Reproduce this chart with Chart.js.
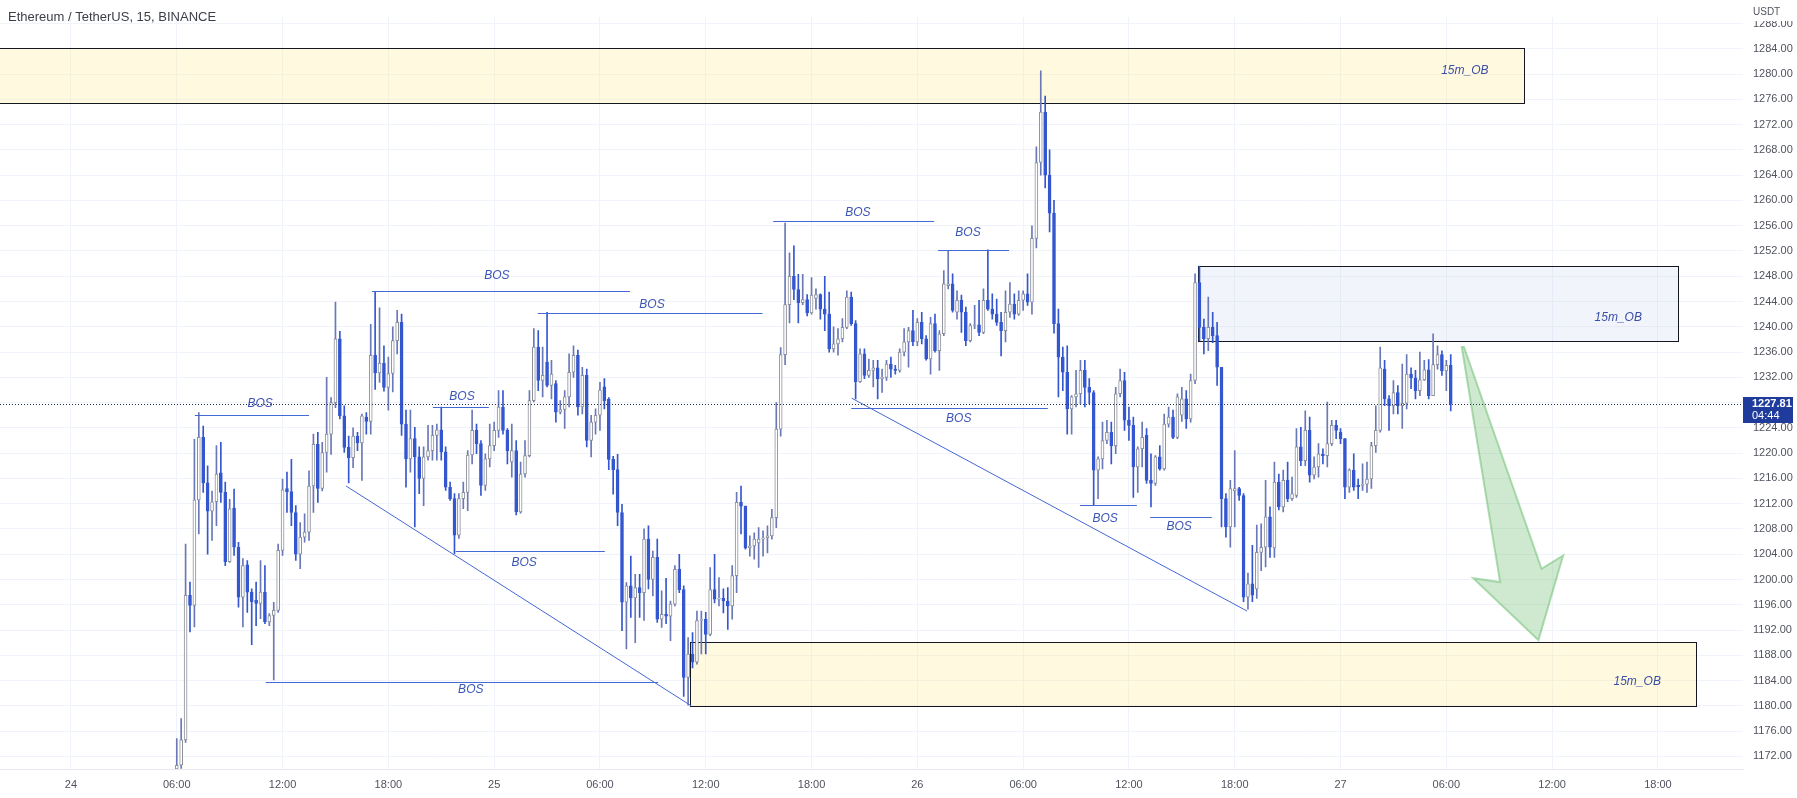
<!DOCTYPE html>
<html>
<head>
<meta charset="utf-8">
<title>Ethereum / TetherUS, 15, BINANCE</title>
<script src="https://cdn.jsdelivr.net/npm/chart.js@4.4.1/dist/chart.umd.min.js"></script>
<style>
  html, body { margin: 0; padding: 0; background: #fff; }
  #wrap { position: relative; width: 1797px; height: 798px; }
</style>
</head>
<body>
<div id="wrap"><canvas id="chart"></canvas></div>
<script>
// ETH/USDT 15m candles, first one at 06:00 on the 24th
const openPrices = [
  1170.0, 1170.6, 1174.6, 1197.5, 1195.9, 1212.6, 1222.5, 1215.3, 1210.8, 1212.3,
  1216.9, 1213.8, 1202.8, 1211.3, 1205.1, 1197.2, 1202.3, 1198.0, 1196.7, 1196.2,
  1198.0, 1193.3, 1194.3, 1195.1, 1204.6, 1214.4, 1213.9, 1210.6, 1204.0, 1206.7,
  1207.5, 1214.8, 1221.4, 1214.4, 1220.1, 1223.0, 1228.0, 1238.1, 1225.9, 1220.9,
  1219.3, 1222.7, 1221.6, 1225.7, 1225.0, 1235.5, 1232.7, 1234.2, 1230.4, 1232.6,
  1237.8, 1240.7, 1224.6, 1219.1, 1222.3, 1219.4, 1216.0, 1219.4, 1220.4, 1222.8,
  1223.7, 1220.2, 1214.6, 1212.8, 1207.0, 1212.8, 1213.8, 1219.7, 1223.6, 1221.5,
  1214.9, 1219.1, 1221.2, 1223.6, 1227.3, 1223.6, 1218.6, 1220.4, 1210.7, 1216.7,
  1219.6, 1228.3, 1236.8, 1231.5, 1234.4, 1230.7, 1231.0, 1226.5, 1226.9, 1228.9,
  1232.8, 1235.5, 1227.3, 1232.3, 1222.0, 1224.9, 1226.0, 1230.5, 1228.5, 1219.0,
  1217.4, 1210.6, 1196.4, 1199.0, 1197.1, 1198.7, 1197.9, 1206.4, 1200.0, 1203.5,
  1193.7, 1194.5, 1194.2, 1196.1, 1201.6, 1198.4, 1184.5, 1188.2, 1186.9, 1193.5,
  1193.7, 1191.3, 1198.4, 1196.9, 1197.0, 1196.6, 1195.8, 1200.6, 1212.2, 1211.6,
  1205.0, 1205.3, 1205.8, 1206.4, 1206.6, 1206.9, 1209.8, 1223.8, 1235.6, 1243.5,
  1248.0, 1245.9, 1243.8, 1244.3, 1242.2, 1244.5, 1245.1, 1242.8, 1242.0, 1236.5,
  1237.3, 1238.1, 1239.9, 1244.7, 1240.5, 1231.3, 1235.7, 1232.3, 1233.1, 1233.5,
  1231.8, 1232.0, 1234.1, 1233.3, 1233.1, 1236.0, 1237.6, 1239.4, 1237.6, 1240.7,
  1238.1, 1234.9, 1240.5, 1236.2, 1238.9, 1246.5, 1246.8, 1242.3, 1244.2, 1242.3,
  1237.8, 1240.2, 1240.3, 1239.1, 1244.2, 1242.8, 1242.0, 1240.7, 1239.4, 1242.3,
  1243.6, 1242.0, 1244.2, 1245.2, 1243.9, 1254.0, 1266.0, 1274.0, 1264.0, 1258.0,
  1240.5, 1235.2, 1232.8, 1227.0, 1228.9, 1229.4, 1233.1, 1230.4, 1229.6, 1217.3,
  1219.1, 1222.0, 1223.3, 1221.2, 1229.4, 1231.5, 1225.2, 1224.4, 1217.8, 1220.7,
  1222.8, 1215.7, 1215.2, 1219.4, 1217.5, 1224.6, 1225.7, 1222.5, 1226.0, 1228.6,
  1225.4, 1231.5, 1247.0, 1239.9, 1238.1, 1239.9, 1238.6, 1233.6, 1212.8, 1208.3,
  1214.0, 1214.4, 1213.3, 1197.2, 1199.3, 1198.5, 1204.3, 1205.1, 1209.9, 1205.0,
  1215.4, 1211.5, 1215.7, 1212.8, 1213.3, 1221.0, 1218.8, 1223.6, 1216.5, 1217.8,
  1219.8, 1219.6, 1221.5, 1224.4, 1223.3, 1222.3, 1214.6, 1217.3, 1214.9, 1214.9,
  1215.1, 1215.9, 1221.2, 1223.6, 1233.3, 1228.6, 1227.5, 1229.6, 1227.5, 1227.9,
  1232.5, 1231.9, 1229.9, 1231.6, 1233.2, 1229.1, 1234.0, 1235.6, 1233.0, 1233.9
];
const highPrices = [
  1174.8, 1178.0, 1205.6, 1199.6, 1222.2, 1226.4, 1224.3, 1218.0, 1214.0, 1221.2,
  1221.7, 1215.4, 1212.7, 1214.3, 1205.9, 1203.3, 1203.0, 1198.5, 1199.6, 1203.0,
  1202.2, 1194.6, 1196.4, 1205.6, 1215.9, 1217.0, 1219.0, 1211.7, 1209.0, 1210.4,
  1217.2, 1223.0, 1223.3, 1221.7, 1232.0, 1228.8, 1243.9, 1239.3, 1227.5, 1222.7,
  1224.0, 1223.3, 1226.2, 1226.4, 1240.4, 1245.6, 1243.0, 1237.0, 1235.2, 1240.0,
  1242.6, 1242.0, 1226.8, 1226.8, 1224.1, 1221.0, 1221.0, 1224.4, 1224.4, 1224.6,
  1227.3, 1221.0, 1215.4, 1213.6, 1213.6, 1215.4, 1220.4, 1226.8, 1224.6, 1222.0,
  1219.9, 1224.6, 1224.9, 1229.9, 1229.9, 1223.9, 1224.6, 1222.0, 1218.6, 1222.0,
  1229.9, 1239.7, 1239.4, 1236.8, 1242.3, 1234.7, 1231.5, 1228.3, 1229.9, 1235.7,
  1237.0, 1236.3, 1233.6, 1233.3, 1226.0, 1227.0, 1231.2, 1231.8, 1228.8, 1219.5,
  1219.8, 1211.9, 1199.5, 1203.7, 1200.8, 1200.8, 1208.0, 1208.5, 1204.5, 1206.4,
  1198.2, 1200.2, 1196.6, 1202.2, 1204.0, 1199.0, 1190.8, 1191.6, 1195.0, 1195.0,
  1194.8, 1201.9, 1204.0, 1200.3, 1198.5, 1198.7, 1202.2, 1213.8, 1214.8, 1211.6,
  1206.9, 1207.4, 1208.2, 1207.7, 1208.5, 1211.1, 1228.0, 1236.7, 1256.4, 1251.7,
  1252.8, 1248.3, 1248.3, 1245.1, 1247.8, 1246.0, 1245.2, 1248.0, 1245.5, 1240.0,
  1239.7, 1241.3, 1245.7, 1245.5, 1241.0, 1236.5, 1236.5, 1234.9, 1234.7, 1234.7,
  1233.3, 1234.7, 1235.2, 1233.9, 1236.5, 1239.7, 1239.9, 1242.6, 1241.3, 1242.3,
  1238.6, 1241.5, 1242.0, 1239.4, 1248.9, 1252.1, 1248.4, 1245.7, 1245.0, 1243.1,
  1240.5, 1243.4, 1244.2, 1246.0, 1252.2, 1245.2, 1244.4, 1242.3, 1245.7, 1247.0,
  1245.2, 1245.7, 1245.7, 1248.4, 1256.0, 1268.5, 1280.5, 1276.5, 1268.0, 1260.0,
  1242.8, 1236.8, 1237.0, 1229.1, 1233.1, 1234.7, 1234.7, 1231.8, 1229.9, 1219.4,
  1224.9, 1225.2, 1224.9, 1230.4, 1233.3, 1232.8, 1227.3, 1225.7, 1221.0, 1224.9,
  1223.9, 1219.9, 1219.6, 1221.2, 1226.2, 1227.3, 1226.8, 1229.4, 1230.4, 1229.9,
  1232.5, 1248.4, 1249.6, 1241.2, 1244.7, 1242.3, 1240.7, 1233.6, 1213.6, 1215.7,
  1220.4, 1214.6, 1213.6, 1201.0, 1205.4, 1208.6, 1208.8, 1215.7, 1211.5, 1218.6,
  1216.7, 1217.3, 1218.6, 1216.2, 1223.9, 1224.1, 1226.7, 1225.7, 1219.4, 1221.5,
  1220.7, 1228.1, 1225.2, 1225.2, 1223.9, 1222.3, 1217.5, 1219.9, 1215.9, 1218.3,
  1218.6, 1221.7, 1227.5, 1236.8, 1234.7, 1229.1, 1231.5, 1230.7, 1234.1, 1235.6,
  1233.5, 1233.1, 1236.0, 1234.7, 1234.8, 1238.9, 1237.0, 1236.2, 1234.7, 1235.6
];
const lowPrices = [
  1169.8, 1170.1, 1174.2, 1191.7, 1192.5, 1207.2, 1213.8, 1204.0, 1206.2, 1208.5,
  1212.2, 1202.2, 1202.7, 1203.8, 1195.6, 1192.5, 1194.8, 1189.7, 1192.7, 1193.8,
  1193.0, 1192.7, 1184.1, 1194.8, 1203.8, 1210.6, 1208.5, 1203.0, 1201.7, 1205.9,
  1206.2, 1210.6, 1212.2, 1214.0, 1217.0, 1219.8, 1227.2, 1225.4, 1220.1, 1215.3,
  1217.7, 1220.4, 1215.7, 1223.0, 1223.0, 1230.1, 1231.2, 1229.8, 1226.8, 1229.7,
  1235.7, 1222.8, 1214.6, 1217.0, 1208.3, 1213.6, 1211.7, 1218.9, 1218.9, 1218.9,
  1218.9, 1214.1, 1212.5, 1204.1, 1206.5, 1211.2, 1210.9, 1218.3, 1219.9, 1213.3,
  1214.1, 1217.8, 1220.4, 1222.5, 1223.0, 1218.3, 1216.2, 1210.2, 1210.5, 1216.2,
  1219.4, 1228.1, 1229.9, 1228.9, 1230.5, 1228.6, 1224.9, 1226.2, 1223.9, 1227.3,
  1232.0, 1226.0, 1226.2, 1221.0, 1219.4, 1223.0, 1223.6, 1227.0, 1217.4, 1213.5,
  1208.5, 1191.9, 1189.0, 1194.0, 1190.0, 1194.0, 1193.5, 1198.5, 1197.4, 1193.2,
  1192.4, 1193.0, 1190.3, 1195.8, 1197.9, 1181.5, 1180.1, 1186.0, 1186.6, 1188.2,
  1188.2, 1191.1, 1196.3, 1195.8, 1194.7, 1192.1, 1193.7, 1197.9, 1207.2, 1204.8,
  1203.7, 1203.2, 1201.9, 1203.7, 1204.2, 1206.4, 1208.2, 1222.7, 1234.0, 1240.6,
  1244.3, 1240.6, 1243.5, 1241.7, 1242.0, 1242.8, 1241.2, 1239.4, 1236.0, 1236.0,
  1235.5, 1237.6, 1239.7, 1240.2, 1228.6, 1231.2, 1231.8, 1232.0, 1230.5, 1228.6,
  1229.6, 1231.5, 1232.0, 1232.5, 1232.8, 1235.4, 1233.6, 1237.0, 1237.0, 1237.3,
  1234.7, 1232.5, 1236.0, 1233.1, 1238.6, 1246.0, 1242.3, 1241.2, 1239.1, 1237.0,
  1237.6, 1239.7, 1238.6, 1238.9, 1242.6, 1241.2, 1240.2, 1235.4, 1237.6, 1241.5,
  1241.2, 1241.8, 1242.6, 1243.4, 1242.0, 1252.5, 1264.0, 1262.0, 1255.0, 1239.0,
  1228.9, 1229.9, 1223.0, 1223.0, 1227.3, 1227.8, 1227.3, 1227.8, 1211.7, 1212.8,
  1217.5, 1221.5, 1218.3, 1219.9, 1228.9, 1223.6, 1222.0, 1213.0, 1213.8, 1217.8,
  1215.2, 1211.5, 1214.9, 1217.3, 1217.3, 1224.1, 1222.3, 1222.3, 1225.0, 1223.9,
  1224.9, 1231.0, 1237.8, 1235.7, 1236.2, 1237.5, 1230.7, 1208.3, 1206.7, 1205.1,
  1208.3, 1212.5, 1196.5, 1195.3, 1196.5, 1197.0, 1201.4, 1202.0, 1203.5, 1203.5,
  1211.0, 1210.7, 1212.3, 1212.5, 1213.0, 1218.0, 1218.0, 1215.4, 1215.9, 1216.2,
  1218.3, 1217.8, 1221.2, 1222.3, 1221.5, 1212.8, 1213.8, 1214.1, 1212.8, 1214.1,
  1213.8, 1214.4, 1220.1, 1223.3, 1227.5, 1223.6, 1226.2, 1226.2, 1223.9, 1227.0,
  1230.2, 1228.6, 1229.1, 1231.5, 1228.6, 1229.1, 1233.3, 1232.3, 1229.9, 1226.7
];
const closePrices = [
  1170.6, 1174.6, 1197.5, 1195.9, 1212.6, 1222.5, 1215.3, 1210.8, 1212.3, 1216.7,
  1213.8, 1202.8, 1211.2, 1205.1, 1197.2, 1202.2, 1198.0, 1196.5, 1196.2, 1198.0,
  1193.3, 1194.3, 1195.1, 1204.6, 1214.2, 1213.9, 1210.6, 1204.0, 1206.7, 1207.5,
  1214.8, 1221.4, 1214.4, 1220.1, 1223.0, 1228.0, 1238.1, 1225.9, 1220.9, 1219.3,
  1222.7, 1221.6, 1225.9, 1225.0, 1235.5, 1232.7, 1234.2, 1230.4, 1232.6, 1237.8,
  1240.7, 1224.6, 1219.1, 1222.3, 1219.4, 1216.0, 1219.4, 1220.4, 1222.8, 1223.7,
  1220.2, 1214.6, 1212.8, 1207.0, 1212.8, 1213.8, 1219.7, 1223.6, 1221.5, 1214.9,
  1219.1, 1221.2, 1223.6, 1227.3, 1223.6, 1220.4, 1220.4, 1210.7, 1216.7, 1219.6,
  1228.3, 1236.8, 1231.5, 1232.3, 1230.7, 1232.5, 1226.5, 1226.9, 1228.9, 1232.8,
  1235.5, 1227.3, 1232.3, 1222.0, 1224.9, 1226.0, 1230.0, 1228.3, 1219.0, 1217.4,
  1210.6, 1196.4, 1199.0, 1197.1, 1198.7, 1197.9, 1206.4, 1200.0, 1203.5, 1193.7,
  1194.5, 1194.2, 1196.1, 1201.6, 1198.4, 1184.5, 1188.2, 1186.9, 1193.5, 1193.7,
  1191.3, 1198.4, 1196.9, 1197.0, 1196.6, 1195.8, 1200.6, 1212.2, 1211.6, 1205.0,
  1205.3, 1206.4, 1206.4, 1206.6, 1206.9, 1209.8, 1223.8, 1235.6, 1243.5, 1248.0,
  1245.9, 1243.8, 1244.3, 1242.2, 1245.0, 1245.1, 1242.8, 1242.0, 1236.5, 1237.3,
  1238.1, 1239.9, 1244.7, 1240.5, 1231.3, 1235.7, 1232.3, 1233.1, 1233.5, 1231.8,
  1232.0, 1234.1, 1233.3, 1233.1, 1236.0, 1237.6, 1239.4, 1237.6, 1240.7, 1238.1,
  1234.9, 1240.5, 1236.2, 1238.9, 1246.8, 1246.8, 1242.6, 1244.2, 1242.3, 1237.8,
  1240.2, 1240.3, 1239.1, 1244.2, 1242.8, 1242.0, 1240.7, 1239.4, 1242.3, 1243.6,
  1242.0, 1244.2, 1245.2, 1243.9, 1254.0, 1266.0, 1274.0, 1264.0, 1258.0, 1240.5,
  1235.2, 1232.8, 1227.0, 1228.9, 1229.4, 1233.1, 1230.4, 1229.6, 1217.3, 1219.1,
  1222.0, 1223.3, 1221.2, 1229.4, 1231.5, 1225.2, 1224.4, 1217.8, 1220.7, 1222.5,
  1215.7, 1215.2, 1219.4, 1217.5, 1224.6, 1225.7, 1222.5, 1228.9, 1228.6, 1225.4,
  1231.5, 1247.0, 1239.9, 1238.1, 1239.9, 1238.6, 1233.6, 1212.8, 1208.3, 1214.4,
  1214.4, 1213.3, 1197.2, 1199.3, 1197.5, 1204.3, 1205.1, 1209.9, 1205.1, 1215.4,
  1211.5, 1215.7, 1212.8, 1213.6, 1221.0, 1218.8, 1223.6, 1216.5, 1217.8, 1219.9,
  1219.6, 1221.5, 1224.4, 1223.6, 1222.3, 1214.6, 1217.3, 1214.6, 1214.7, 1215.1,
  1215.9, 1221.2, 1223.6, 1233.5, 1228.6, 1227.5, 1229.6, 1227.5, 1227.9, 1232.5,
  1231.9, 1229.9, 1231.6, 1233.2, 1229.1, 1234.0, 1235.6, 1233.0, 1233.9, 1227.81
];

// x values are 15-minute slots counted from 00:00 on the 24th
const firstSlot = 24;
const timeTicks = [0, 24, 48, 72, 96, 120, 144, 168, 192, 216, 240, 264, 288, 312, 336, 360];
const timeLabels = ['24', '06:00', '12:00', '18:00', '25', '06:00', '12:00', '18:00',
  '26', '06:00', '12:00', '18:00', '27', '06:00', '12:00', '18:00'];
const priceTicks = [1172, 1176, 1180, 1184, 1188, 1192, 1196, 1200, 1204, 1208, 1212, 1216,
  1220, 1224, 1228, 1232, 1236, 1240, 1244, 1248, 1252, 1256, 1260, 1264, 1268, 1272,
  1276, 1280, 1284, 1288];
const lastPrice = 1227.81;
const lastPriceTimer = '04:44';

// drawings, in (slot, price)
const obZones = [
  { from: -20, to: 329.6, top: 1284.2, bottom: 1275.4, fill: 'rgba(255, 232, 140, 0.28)', label: [316.2, 1280.5] },
  { from: 255.6, to: 364.6, top: 1249.7, bottom: 1237.8, fill: 'rgba(190, 206, 232, 0.22)', label: [351.0, 1241.5] },
  { from: 140.4, to: 368.6, top: 1190.1, bottom: 1180.0, fill: 'rgba(255, 232, 140, 0.28)', label: [355.3, 1183.8] }
];
const bosLines = [
  { from: 28.1, to: 54.0, price: 1226.0, label: [42.9, 1227.9] },
  { from: 68.3, to: 126.8, price: 1245.7, label: [96.6, 1248.1] },
  { from: 105.9, to: 156.9, price: 1242.2, label: [131.8, 1243.5] },
  { from: 82.1, to: 94.8, price: 1227.3, label: [88.7, 1228.9] },
  { from: 87.3, to: 121.1, price: 1204.5, label: [102.8, 1202.6] },
  { from: 44.2, to: 133.2, price: 1183.8, label: [90.7, 1182.5] },
  { from: 159.3, to: 195.8, price: 1256.7, label: [178.5, 1258.0] },
  { from: 196.7, to: 212.8, price: 1252.2, label: [203.5, 1254.9] },
  { from: 177.0, to: 221.6, price: 1227.2, label: [201.4, 1225.5] },
  { from: 228.9, to: 241.8, price: 1211.8, label: [234.6, 1209.6] },
  { from: 244.8, to: 258.8, price: 1209.9, label: [251.4, 1208.3] }
];
const trendLines = [
  [62.4, 1214.8, 140.7, 1180.0],
  [177.1, 1228.7, 266.8, 1195.0]
];
const arrowShape = [
  [315.5, 1236.8], [324.2, 1199.6], [318.1, 1200.2], [332.9, 1190.4],
  [338.5, 1203.8], [333.6, 1201.7], [316.0, 1236.8]
];

const upFill = '#ffffff', upLine = '#8d9099', upWick = '#6a78b8';
const downFill = '#3457d0', downWick = '#3457d0';
const textColor = '#50535e';
const gridColor = '#f0f3fa';

const wickData = [];
const bodyData = [];
const wickColors = [];
const bodyFills = [];
const bodyLines = [];
openPrices.forEach((o, i) => {
  const c = closePrices[i];
  const up = c >= o;
  wickData.push({ x: firstSlot + i, y: [lowPrices[i], highPrices[i]] });
  bodyData.push({ x: firstSlot + i, y: [o, c] });
  wickColors.push(up ? upWick : downWick);
  bodyFills.push(up ? upFill : downFill);
  bodyLines.push(up ? upLine : downFill);
});

const drawings = {
  id: 'drawings',
  beforeDatasetsDraw(chart) {
    const { ctx, chartArea: a, scales: { x, y } } = chart;
    ctx.save();
    ctx.beginPath();
    ctx.rect(a.left, a.top, a.width, a.height);
    ctx.clip();
    obZones.forEach(z => {
      const x1 = Math.round(x.getPixelForValue(z.from)) + 0.5;
      const x2 = Math.round(x.getPixelForValue(z.to)) + 0.5;
      const y1 = Math.round(y.getPixelForValue(z.top)) + 0.5;
      const y2 = Math.round(y.getPixelForValue(z.bottom)) + 0.5;
      ctx.fillStyle = z.fill;
      ctx.fillRect(x1, y1, x2 - x1, y2 - y1);
      ctx.strokeStyle = '#131722';
      ctx.lineWidth = 1;
      ctx.strokeRect(x1, y1, x2 - x1, y2 - y1);
    });
    ctx.restore();
  },
  afterDatasetsDraw(chart) {
    const { ctx, chartArea: a, scales: { x, y } } = chart;
    ctx.save();
    ctx.beginPath();
    ctx.rect(a.left, a.top, a.width, a.height);
    ctx.clip();

    // BOS levels
    ctx.strokeStyle = '#4468d4';
    ctx.lineWidth = 1;
    bosLines.forEach(b => {
      const yy = Math.round(y.getPixelForValue(b.price)) + 0.5;
      ctx.beginPath();
      ctx.moveTo(x.getPixelForValue(b.from), yy);
      ctx.lineTo(x.getPixelForValue(b.to), yy);
      ctx.stroke();
    });
    trendLines.forEach(t => {
      ctx.beginPath();
      ctx.moveTo(x.getPixelForValue(t[0]), y.getPixelForValue(t[1]));
      ctx.lineTo(x.getPixelForValue(t[2]), y.getPixelForValue(t[3]));
      ctx.stroke();
    });

    ctx.font = 'italic 12px "Liberation Sans", Arial, sans-serif';
    ctx.textAlign = 'center';
    ctx.textBaseline = 'middle';
    ctx.fillStyle = '#3b55b6';
    bosLines.forEach(b => {
      ctx.fillText('BOS', x.getPixelForValue(b.label[0]), y.getPixelForValue(b.label[1]));
    });
    ctx.fillStyle = '#3a4ea6';
    obZones.forEach(z => {
      ctx.fillText('15m_OB', x.getPixelForValue(z.label[0]), y.getPixelForValue(z.label[1]));
    });

    // green arrow
    ctx.beginPath();
    arrowShape.forEach((p, i) => {
      const px = x.getPixelForValue(p[0]), py = y.getPixelForValue(p[1]);
      if (i === 0) ctx.moveTo(px, py); else ctx.lineTo(px, py);
    });
    ctx.closePath();
    ctx.fillStyle = 'rgba(102, 187, 106, 0.32)';
    ctx.fill();
    ctx.strokeStyle = 'rgba(102, 187, 106, 0.5)';
    ctx.lineWidth = 2;
    ctx.stroke();

    // last price line
    const ly = Math.round(y.getPixelForValue(lastPrice)) + 0.5;
    ctx.setLineDash([1, 2]);
    ctx.strokeStyle = '#283350';
    ctx.lineWidth = 1;
    ctx.beginPath();
    ctx.moveTo(a.left, ly);
    ctx.lineTo(a.right, ly);
    ctx.stroke();
    ctx.restore();
  },
  afterDraw(chart) {
    const { ctx, chartArea: a, scales: { y } } = chart;
    ctx.save();
    ctx.font = '13px "Liberation Sans", Arial, sans-serif';
    ctx.fillStyle = '#3b3e48';
    ctx.textAlign = 'left';
    ctx.textBaseline = 'middle';
    ctx.fillText('Ethereum / TetherUS, 15, BINANCE', 8, 17);

    ctx.fillStyle = '#ffffff';
    ctx.fillRect(a.right, 0, chart.width - a.right, 21);
    ctx.font = '10px "Liberation Sans", Arial, sans-serif';
    ctx.fillStyle = textColor;
    ctx.fillText('USDT', a.right + 10, 12);

    const ly = Math.round(y.getPixelForValue(lastPrice));
    ctx.fillStyle = '#1f3c9c';
    ctx.fillRect(a.right, ly - 7, 50, 26);
    ctx.fillStyle = '#ffffff';
    ctx.font = 'bold 11px "Liberation Sans", Arial, sans-serif';
    ctx.fillText(lastPrice.toFixed(2), a.right + 9, ly);
    ctx.font = '11px "Liberation Sans", Arial, sans-serif';
    ctx.fillText(lastPriceTimer, a.right + 9, ly + 12);
    ctx.restore();
  }
};

new Chart(document.getElementById('chart'), {
  type: 'bar',
  data: {
    datasets: [
      {
        label: 'wick',
        data: wickData,
        backgroundColor: wickColors,
        barThickness: 1,
        order: 2,
      },
      {
        label: 'body',
        data: bodyData,
        backgroundColor: bodyFills,
        borderColor: bodyLines,
        borderWidth: 1,
        borderSkipped: false,
        barThickness: 3,
        minBarLength: 1,
        order: 1,
      },
    ],
  },
  options: {
    responsive: true,
    maintainAspectRatio: false,
    animation: false,
    layout: { padding: 0 },
    datasets: { bar: { grouped: false } },
    plugins: {
      legend: { display: false },
      tooltip: { enabled: false },
    },
    scales: {
      x: {
        type: 'linear',
        min: -16.1,
        max: 379.3,
        offset: false,
        grid: { color: gridColor, drawTicks: false, offset: false },
        border: { color: '#e6e9ef' },
        afterBuildTicks: s => { s.ticks = timeTicks.map(v => ({ value: v })); },
        afterFit: s => { s.height = 29; },
        ticks: {
          autoSkip: false,
          maxRotation: 0,
          padding: 9,
          color: textColor,
          font: { family: '"Liberation Sans", Arial, sans-serif', size: 11 },
          callback: v => timeLabels[timeTicks.indexOf(v)],
        },
      },
      y: {
        position: 'right',
        min: 1170.0,
        max: 1289.1,
        beginAtZero: false,
        grid: { color: gridColor, drawTicks: false },
        border: { display: false },
        afterBuildTicks: s => { s.ticks = priceTicks.map(v => ({ value: v })); },
        afterFit: s => { s.width = 54; },
        ticks: {
          autoSkip: false,
          padding: 10,
          color: textColor,
          font: { family: '"Liberation Sans", Arial, sans-serif', size: 11 },
          callback: v => v.toFixed(2),
        },
      },
    },
  },
  plugins: [drawings],
});
</script>
</body>
</html>
